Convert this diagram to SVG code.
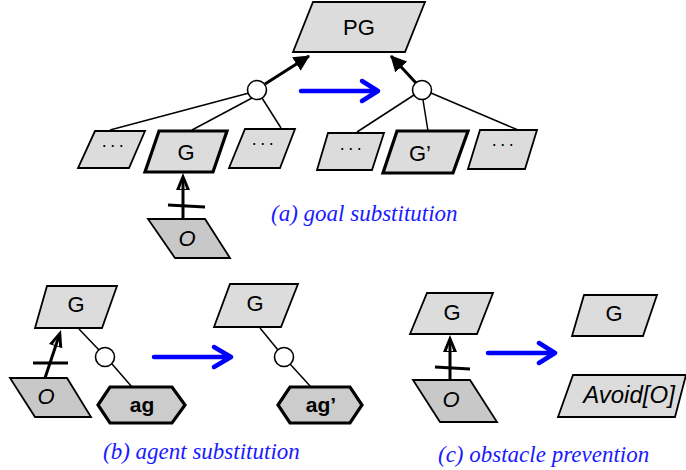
<svg xmlns="http://www.w3.org/2000/svg" width="686" height="470" viewBox="0 0 686 470">
  <defs>
    <style>
      .goal { fill: #dcdcdc; stroke: #000; stroke-width: 1.8; stroke-linejoin: miter; }
      .goal-bold { fill: #dcdcdc; stroke: #000; stroke-width: 3.2; stroke-linejoin: miter; }
      .obst { fill: #c8c8c8; stroke: #000; stroke-width: 1.8; }
      .agent { fill: #cccccc; stroke: #000; stroke-width: 3.2; stroke-linejoin: miter; }
      .lbl { font-family: "Liberation Sans", Arial, sans-serif; font-size: 22px; fill: #000; text-anchor: middle; }
      .it { font-style: italic; }
      .bold { font-weight: bold; font-size: 21px; }
      .dots { font-family: "Liberation Sans", Arial, sans-serif; font-size: 18px; letter-spacing: 2.5px; fill: #000; text-anchor: middle; }
      .cap { font-family: "Liberation Serif", "Times New Roman", serif; font-style: italic; font-size: 23px; fill: #1a1aff; }
      .link { stroke: #000; stroke-width: 1.5; fill: none; }
      .thick { stroke: #000; stroke-width: 3; fill: none; }
      .refine { fill: #fff; stroke: #000; stroke-width: 1.6; }
      .blue { stroke: #0000ff; stroke-width: 4.5; fill: none; stroke-linecap: round; stroke-linejoin: round; }
    </style>
    <marker id="headBlack" viewBox="0 0 16 18" refX="15" refY="9" markerWidth="16" markerHeight="18" markerUnits="userSpaceOnUse" orient="auto">
      <path d="M0,1 L16,9 L0,17 Z" fill="#000"/>
    </marker>
    <!-- obstruction arrowhead, tip at origin, pointing up -->
    <g id="obsHead">
      <path d="M0,0 L7,17 L-7,17 Z" fill="#000"/>
      <path d="M-3.2,16 L-1.2,10 L1.2,10 L3.2,16 Z" fill="#fff"/>
      <line x1="0" y1="17" x2="0" y2="9" stroke="#000" stroke-width="3"/>
    </g>
  </defs>

  <!-- connectors -->
  <g id="connectors">
    <!-- (a) left refinement -->
    <line class="link" x1="249" y1="93" x2="110" y2="130"/>
    <line class="link" x1="252" y1="98" x2="192" y2="130"/>
    <line class="link" x1="262" y1="98" x2="281" y2="128"/>
    <line class="thick" x1="265" y1="84" x2="309" y2="56" marker-end="url(#headBlack)"/>
    <!-- (a) right refinement -->
    <line class="link" x1="414" y1="95" x2="357" y2="132"/>
    <line class="link" x1="423" y1="100" x2="428" y2="131"/>
    <line class="link" x1="431" y1="93" x2="518" y2="130"/>
    <line class="thick" x1="416" y1="83" x2="391" y2="56" marker-end="url(#headBlack)"/>
    <!-- (a) obstruction O -> G -->
    <line class="thick" x1="183" y1="219" x2="183" y2="190"/>
    <use href="#obsHead" transform="translate(183,173)"/>
    <line class="thick" x1="168" y1="205" x2="205" y2="207"/>
    <!-- (b) left -->
    <line class="link" x1="79" y1="329" x2="99" y2="350"/>
    <line class="link" x1="112" y1="364" x2="132" y2="387"/>
    <line class="thick" x1="45" y1="378" x2="56" y2="345"/>
    <use href="#obsHead" transform="translate(61,330) rotate(18.4)"/>
    <line class="thick" x1="33" y1="363" x2="68" y2="363"/>
    <!-- (b) right -->
    <line class="link" x1="260" y1="328" x2="278" y2="350"/>
    <line class="link" x1="290" y1="364" x2="311" y2="387"/>
    <!-- (c) obstruction O -> G -->
    <line class="thick" x1="450" y1="380" x2="450" y2="352"/>
    <use href="#obsHead" transform="translate(450,335)"/>
    <line class="thick" x1="435" y1="367" x2="470" y2="369"/>
    <!-- transformation arrows -->
    <path class="blue" d="M301,91 L378,91 M362,81 L378,91 L362,101"/>
    <path class="blue" d="M154,357 L231,357 M214,347 L231,357 L214,367"/>
    <path class="blue" d="M488,353 L555,353 M539,343 L555,353 L539,363"/>
  </g>

  <!-- refinement nodes -->
  <g id="refA1"><circle class="refine" cx="257" cy="90" r="9.5"/></g>
  <g id="refA2"><circle class="refine" cx="422" cy="90" r="9.5"/></g>
  <g id="refB1"><circle class="refine" cx="105" cy="357" r="9.5"/></g>
  <g id="refB2"><circle class="refine" cx="284" cy="357" r="9.5"/></g>

  <!-- (a) goal substitution -->
  <g id="PG">
    <polygon class="goal" points="313,2 425,2 405,52 293,52"/>
    <text class="lbl" x="359" y="35">PG</text>
  </g>
  <g id="a-dots1">
    <polygon class="goal" points="95,131 145,131 129,168 78,168"/>
    <text class="dots" x="114" y="151">···</text>
  </g>
  <g id="a-G">
    <polygon class="goal-bold" points="159,131 227,131 213,172 145,172"/>
    <text class="lbl" x="186" y="160">G</text>
  </g>
  <g id="a-dots2">
    <polygon class="goal" points="245,129 295,129 280,168 229,168"/>
    <text class="dots" x="264" y="149">···</text>
  </g>
  <g id="a-O">
    <polygon class="obst" points="148,219 205,219 230,258 175,258"/>
    <text class="lbl it" x="187" y="246">O</text>
  </g>
  <g id="a-dots3">
    <polygon class="goal" points="328,133 384,133 372,170 317,170"/>
    <text class="dots" x="352" y="154">···</text>
  </g>
  <g id="a-G2">
    <polygon class="goal-bold" points="397,131 468,131 453,173 383,173"/>
    <text class="lbl" x="420" y="161">G’</text>
  </g>
  <g id="a-dots4">
    <polygon class="goal" points="480,130 537,130 525,169 468,169"/>
    <text class="dots" x="504" y="150">···</text>
  </g>
  <text class="cap" x="271" y="221">(a) goal substitution</text>

  <!-- (b) agent substitution -->
  <g id="b-G">
    <polygon class="goal" points="47,286 117,286 102,328 35,328"/>
    <text class="lbl" x="76" y="312">G</text>
  </g>
  <g id="b-O">
    <polygon class="obst" points="10,378 67,378 91,417 35,417"/>
    <text class="lbl it" x="46" y="404">O</text>
  </g>
  <g id="b-ag">
    <polygon class="agent" points="98,405 110,387 172,387 185,405 172,423 110,423"/>
    <text class="lbl bold" x="142" y="412">ag</text>
  </g>
  <g id="b-G2">
    <polygon class="goal" points="230,284 298,284 281,327 214,327"/>
    <text class="lbl" x="255" y="311">G</text>
  </g>
  <g id="b-ag2">
    <polygon class="agent" points="278,405 290,387 350,387 362,405 350,423 290,423"/>
    <text class="lbl bold" x="321" y="412">ag’</text>
  </g>
  <text class="cap" x="103" y="459">(b) agent substitution</text>

  <!-- (c) obstacle prevention -->
  <g id="c-G">
    <polygon class="goal" points="427,293 493,293 477,334 410,334"/>
    <text class="lbl" x="452" y="320">G</text>
  </g>
  <g id="c-O">
    <polygon class="obst" points="413,380 470,380 497,422 440,422"/>
    <text class="lbl it" x="451" y="407">O</text>
  </g>
  <g id="c-G2">
    <polygon class="goal" points="584,295 657,295 643,336 572,336"/>
    <text class="lbl" x="614" y="321">G</text>
  </g>
  <g id="c-avoid">
    <polygon class="goal" points="573,375 686,375 675,417 558,417"/>
    <text class="lbl it" x="629" y="403" style="font-size:24px">Avoid[O]</text>
  </g>
  <text class="cap" x="438" y="462">(c) obstacle prevention</text>
</svg>
